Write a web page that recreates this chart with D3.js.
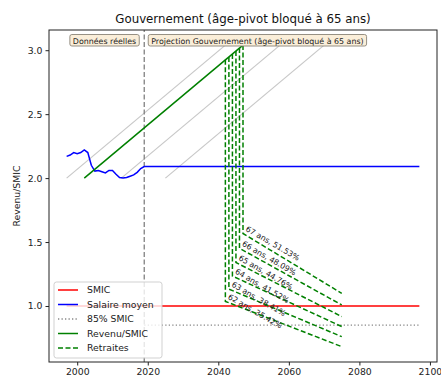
<!doctype html>
<html>
<head>
<meta charset="utf-8"/>
<title>Gouvernement (âge-pivot bloqué à 65 ans)</title>
<script src="https://d3js.org/d3.v7.min.js"></script>
<style>
  body { margin: 0; background: #fff; }
  svg { display: block; font-family: "DejaVu Sans", sans-serif; }
</style>
</head>
<body>
<div id="chart"></div>
<script>
// données
var salaireAnnees = [1997, 1998, 1999, 2000, 2001, 2002, 2003, 2004, 2005, 2006, 2007, 2008,
  2009, 2010, 2011, 2012, 2013, 2014, 2015, 2016, 2017, 2018, 2019, 2097];
var salaireValeurs = [2.17, 2.18, 2.20, 2.19, 2.20, 2.22, 2.20, 2.10, 2.055, 2.06, 2.05, 2.04,
  2.06, 2.06, 2.03, 2.005, 2.0, 2.005, 2.015, 2.025, 2.045, 2.075, 2.09, 2.09];
var smicAnnees = [1997, 2097];
var smicValeurs = [1.0, 1.0];
var smic85Annees = [2019, 2097];
var smic85Valeurs = [0.85, 0.85];
var revenuAnnees = [2002, 2047];
var revenuValeurs = [2.0, 3.04];
var grisDebuts = [1997, 2012.5, 2025];   // autres carrières (gris)
var grisDuree = 45;
var grisValeurs = [2.0, 3.04];
var ages = [62, 63, 64, 65, 66, 67];
var departAnnees = [2042, 2043, 2044, 2045, 2046, 2047];
var taux = ["35.42%", "38.41%", "41.52%", "44.76%", "48.09%", "51.53%"];
var retraiteDebut = [1.036, 1.132, 1.234, 1.340, 1.451, 1.567];
var retraiteFin = [0.682, 0.760, 0.839, 0.917, 1.008, 1.099];
var finAnnee = 2075;
var anneeCoupure = 2019;
var xTicks = [2000, 2020, 2040, 2060, 2080, 2100];
var yTicks = [1.0, 1.5, 2.0, 2.5, 3.0];

var W = 441, H = 378;
var m = {left: 49, right: 4, top: 30, bottom: 16};

var svg = d3.select("#chart").append("svg")
  .attr("width", W)
  .attr("height", H);

var x = d3.scaleLinear().domain([1992, 2102]).range([m.left, W - m.right]);
var y = d3.scaleLinear().domain([0.562, 3.158]).range([H - m.bottom, m.top]);

var line = d3.line().x(function(d) { return x(d[0]); }).y(function(d) { return y(d[1]); });

var plot = svg.append("g");

// lignes grises
grisDebuts.forEach(function(a) {
  plot.append("path")
    .attr("d", line([[a, grisValeurs[0]], [a + grisDuree, grisValeurs[1]]]))
    .attr("fill", "none").attr("stroke", "#c8c8c8").attr("stroke-width", 1.2);
});

// séparation réel / projection
plot.append("path")
  .attr("d", line([[anneeCoupure, 0.562], [anneeCoupure, 3.158]]))
  .attr("fill", "none").attr("stroke", "#808080").attr("stroke-width", 1.3)
  .attr("stroke-dasharray", "5,2.5");

// SMIC
plot.append("path")
  .attr("d", line(d3.zip(smicAnnees, smicValeurs)))
  .attr("fill", "none").attr("stroke", "red").attr("stroke-width", 1.5);

// Salaire moyen
plot.append("path")
  .attr("d", line(d3.zip(salaireAnnees, salaireValeurs)))
  .attr("fill", "none").attr("stroke", "blue").attr("stroke-width", 1.5);

// 85% SMIC
plot.append("path")
  .attr("d", line(d3.zip(smic85Annees, smic85Valeurs)))
  .attr("fill", "none").attr("stroke", "#888").attr("stroke-width", 1.3)
  .attr("stroke-dasharray", "1.3,2.2");

// Revenu/SMIC
plot.append("path")
  .attr("d", line(d3.zip(revenuAnnees, revenuValeurs)))
  .attr("fill", "none").attr("stroke", "green").attr("stroke-width", 1.5);

var pente = (revenuValeurs[1] - revenuValeurs[0]) / (revenuAnnees[1] - revenuAnnees[0]);

// Retraites
ages.forEach(function(age, i) {
  var t = departAnnees[i];
  var haut = revenuValeurs[0] + (t - revenuAnnees[0]) * pente;
  var pts = [[t, haut], [t, retraiteDebut[i]], [finAnnee, retraiteFin[i]]];
  plot.append("path")
    .attr("d", line(pts))
    .attr("fill", "none").attr("stroke", "green").attr("stroke-width", 1.5)
    .attr("stroke-dasharray", "5,2.5");
  var px = x(t) + 2, py = y(retraiteDebut[i]) - 3;
  plot.append("text")
    .attr("transform", "translate(" + px + "," + py + ") rotate(30)")
    .attr("font-size", 7.8).attr("fill", "#222")
    .text(age + " ans, " + taux[i]);
});

// boîtes de texte
function boite(tx, ancre, texte) {
  var g = svg.append("g");
  var t = g.append("text").attr("x", tx).attr("y", 43.5)
    .attr("text-anchor", ancre).attr("font-size", 7.9).attr("fill", "#222").text(texte);
  var b = t.node().getBBox();
  g.insert("rect", "text")
    .attr("x", b.x - 3).attr("y", 34.5).attr("width", b.width + 6).attr("height", 11.5)
    .attr("rx", 2).attr("fill", "#faeed9").attr("stroke", "#8a8478").attr("stroke-width", 0.9);
}
boite(x(anneeCoupure) - 8, "end", "Données réelles");
boite(x(anneeCoupure) + 7, "start", "Projection Gouvernement (âge-pivot bloqué à 65 ans)");

// axes
var xAxis = d3.axisBottom(x).tickValues(xTicks).tickSize(3.5).tickPadding(3).tickFormat(d3.format("d"));
var yAxis = d3.axisLeft(y).tickValues(yTicks).tickSize(3.5).tickPadding(3).tickFormat(d3.format(".1f"));

var gx = svg.append("g").attr("transform", "translate(0," + (H - m.bottom) + ")").call(xAxis);
var gy = svg.append("g").attr("transform", "translate(" + m.left + ",0)").call(yAxis);
[gx, gy].forEach(function(g) {
  g.select(".domain").remove();
  g.selectAll("text").attr("font-size", 9.3).attr("font-family", "DejaVu Sans").attr("fill", "#222");
  g.selectAll("line").attr("stroke", "#222");
});

svg.append("rect")
  .attr("x", m.left).attr("y", m.top)
  .attr("width", W - m.left - m.right).attr("height", H - m.top - m.bottom)
  .attr("fill", "none").attr("stroke", "#222").attr("stroke-width", 1);

svg.append("text")
  .attr("x", (m.left + W - m.right) / 2).attr("y", 23)
  .attr("text-anchor", "middle").attr("font-size", 11.8).attr("fill", "#111")
  .text("Gouvernement (âge-pivot bloqué à 65 ans)");

svg.append("text")
  .attr("transform", "translate(20," + ((m.top + H - m.bottom) / 2) + ") rotate(-90)")
  .attr("text-anchor", "middle").attr("font-size", 9.3).attr("fill", "#222")
  .text("Revenu/SMIC");

// légende
var legende = [
  {nom: "SMIC", couleur: "red", dash: null},
  {nom: "Salaire moyen", couleur: "blue", dash: null},
  {nom: "85% SMIC", couleur: "#888", dash: "1.3,2.2"},
  {nom: "Revenu/SMIC", couleur: "green", dash: null},
  {nom: "Retraites", couleur: "green", dash: "5,2.5"}
];
var lg = svg.append("g");
lg.append("rect").attr("x", 54).attr("y", 282).attr("width", 108).attr("height", 76)
  .attr("rx", 2.5).attr("fill", "white").attr("fill-opacity", 0.8)
  .attr("stroke", "#ccc").attr("stroke-width", 0.9);
legende.forEach(function(d, i) {
  var yy = 290 + i * 14.5;
  lg.append("line").attr("x1", 58).attr("x2", 78).attr("y1", yy).attr("y2", yy)
    .attr("stroke", d.couleur).attr("stroke-width", 1.5)
    .attr("stroke-dasharray", d.dash);
  lg.append("text").attr("x", 87).attr("y", yy + 3.3)
    .attr("font-size", 9.3).attr("fill", "#222").text(d.nom);
});
</script>
</body>
</html>
